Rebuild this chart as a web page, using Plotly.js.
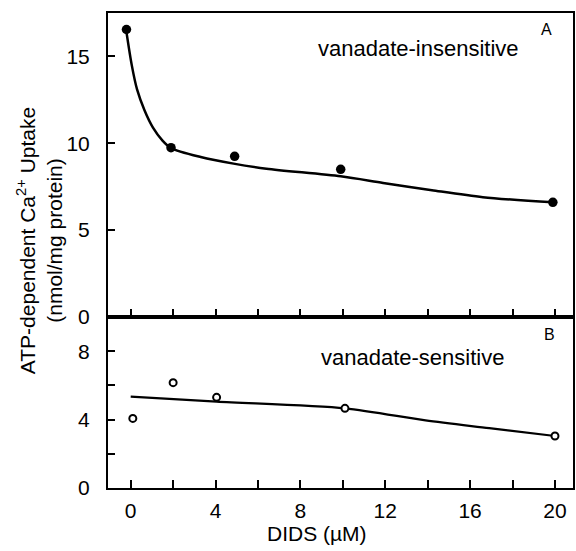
<!DOCTYPE html>
<html>
<head>
<meta charset="utf-8">
<script src="https://cdn.plot.ly/plotly-3.0.1.min.js"></script>
<style>html,body{margin:0;padding:0;background:#fff;}#chart{width:576px;height:551px;}</style>
</head>
<body>
<div id="chart"></div>
<script>
// Panel A: vanadate-insensitive (filled circles)
const topX = [-0.2, 1.9, 4.9, 9.9, 19.9];
const topY = [16.55, 9.75, 9.25, 8.5, 6.6];
// Panel A fitted curve
const topFitX = [-0.2, 0.05, 0.3, 0.65, 1.05, 1.5, 1.9, 3.3, 4.85, 6.4, 9.9, 11.9, 14.2, 16.6, 19.9];
const topFitY = [16.4, 14.5, 13.1, 11.9, 10.9, 10.15, 9.72, 9.21, 8.83, 8.54, 8.1, 7.72, 7.3, 6.9, 6.6];
// Panel B: vanadate-sensitive (open circles)
const botX = [0.1, 2.0, 4.05, 10.1, 20.0];
const botY = [4.07, 6.16, 5.3, 4.66, 3.04];
// Panel B fitted curve
const botFitX = [0.0, 4.05, 10.1, 13.9, 16.9, 20.0];
const botFitY = [5.34, 5.05, 4.66, 3.95, 3.5, 3.04];

const xTickVals = [0, 4, 8, 12, 16, 20];
const xTickText = ['0', '4', '8', '12', '16', '20'];
const topYTickVals = [0, 5, 10, 15];
const topYTickText = ['0', '5', '10', '15'];
const botYTickVals = [0, 4, 8];
const botYTickText = ['0', '4', '8'];

const FONT = 'Liberation Sans, Arial, sans-serif';
const lineCol = '#000';

const traces = [
  {x: topFitX, y: topFitY, xaxis: 'x2', yaxis: 'y2', mode: 'lines', line: {color: lineCol, width: 2.5, shape: 'spline', smoothing: 0.8}, hoverinfo: 'skip'},
  {x: topX, y: topY, xaxis: 'x2', yaxis: 'y2', mode: 'markers', marker: {color: lineCol, size: 9.5}},
  {x: botFitX, y: botFitY, xaxis: 'x', yaxis: 'y', mode: 'lines', line: {color: lineCol, width: 2.2, shape: 'spline', smoothing: 0.8}, hoverinfo: 'skip'},
  {x: botX, y: botY, xaxis: 'x', yaxis: 'y', mode: 'markers', marker: {color: '#fff', size: 7, line: {color: lineCol, width: 2}}}
];

const xBase = {
  range: [-1.07, 20.85], showline: true, linewidth: 2, linecolor: lineCol, mirror: true,
  ticks: 'inside', ticklen: 8, tickwidth: 2, tickcolor: lineCol,
  tickvals: xTickVals, ticktext: xTickText,
  minor: {dtick: 2, tick0: 0, ticks: 'inside', ticklen: 8, tickwidth: 2, tickcolor: lineCol, showgrid: false},
  showgrid: false, zeroline: false, fixedrange: true
};

const yBase = {
  showline: true, linewidth: 2, linecolor: lineCol, mirror: true,
  ticks: 'inside', ticklen: 7, tickwidth: 2, tickcolor: lineCol,
  ticklabelstandoff: 12,
  tickfont: {family: FONT, size: 21, color: '#000'},
  showgrid: false, zeroline: false, fixedrange: true
};

const layout = {
  width: 576, height: 551,
  margin: {l: 108, r: 3, t: 13, b: 63},
  paper_bgcolor: '#fff', plot_bgcolor: '#fff',
  showlegend: false,
  font: {family: FONT, size: 21, color: '#000'},
  xaxis: Object.assign({}, xBase, {
    anchor: 'y', domain: [0, 1], showticklabels: true, ticklabelstandoff: 3,
    tickfont: {family: FONT, size: 21, color: '#000'}
  }),
  xaxis2: Object.assign({}, xBase, {anchor: 'y2', domain: [0, 1], showticklabels: false}),
  yaxis: Object.assign({}, yBase, {
    anchor: 'x', domain: [0, 0.36], range: [0, 10],
    tickvals: botYTickVals, ticktext: botYTickText,
    minor: {dtick: 2, tick0: 0, ticks: 'inside', ticklen: 7, tickwidth: 2, tickcolor: lineCol, showgrid: false}
  }),
  yaxis2: Object.assign({}, yBase, {
    anchor: 'x2', domain: [0.36, 1], range: [0, 17.5],
    tickvals: topYTickVals, ticktext: topYTickText
  }),
  annotations: [
    {xref: 'x2', yref: 'y2', x: 13.55, y: 15.45, text: 'vanadate-insensitive', showarrow: false, font: {family: FONT, size: 22, color: '#000'}},
    {xref: 'x2', yref: 'y2', x: 19.6, y: 16.55, text: 'A', showarrow: false, font: {family: FONT, size: 16, color: '#000'}},
    {xref: 'x', yref: 'y', x: 13.3, y: 7.65, text: 'vanadate-sensitive', showarrow: false, font: {family: FONT, size: 22, color: '#000'}},
    {xref: 'x', yref: 'y', x: 19.75, y: 9.0, text: 'B', showarrow: false, font: {family: FONT, size: 16, color: '#000'}},
    {xref: 'x', yref: 'paper', x: 8.8, y: -0.095, yanchor: 'middle', xanchor: 'center', text: 'DIDS (\u00b5M)', showarrow: false, font: {family: FONT, size: 21, color: '#000'}},
    {xref: 'paper', yref: 'paper', x: -0.148, y: 0.52, xanchor: 'center', yanchor: 'middle', textangle: -90, showarrow: false,
     text: 'ATP-dependent Ca<sup>2+</sup> Uptake<br>(nmol/mg protein)', font: {family: FONT, size: 21, color: '#000'}}
  ]
};

Plotly.newPlot('chart', traces, layout, {displayModeBar: false, staticPlot: true});
</script>
</body>
</html>
